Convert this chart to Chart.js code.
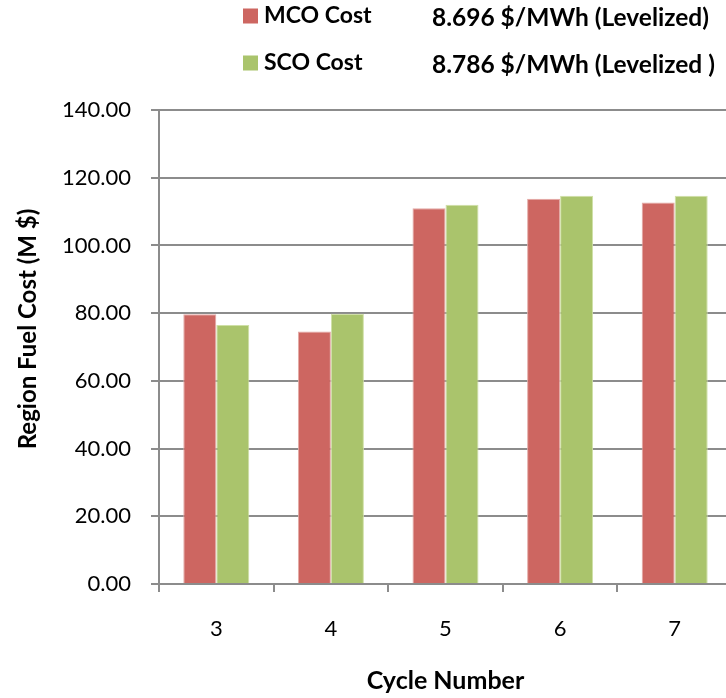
<!DOCTYPE html>
<html>
<head>
<meta charset="utf-8">
<script src="https://cdn.jsdelivr.net/npm/chart.js@4/dist/chart.umd.min.js"></script>
<style>
  html, body { margin: 0; padding: 0; background: #fff; overflow: hidden; }
  #wrap { width: 740px; height: 698px; }
</style>
</head>
<body>
<div id="wrap"><canvas id="c" width="740" height="698"></canvas></div>
<script>
// Cycle-by-cycle region fuel cost, two loading strategies
const cycles = ['3', '4', '5', '6', '7'];
const mcoCost = [79.7, 74.6, 111.0, 113.8, 112.7];
const scoCost = [76.5, 79.8, 112.0, 114.7, 114.7];
const seriesNames = ['MCO Cost', 'SCO Cost'];
const levelizedNotes = ['8.696 $/MWh (Levelized)', '8.786 $/MWh (Levelized )'];
const yTitle = 'Region Fuel Cost (M $)';
const xTitle = 'Cycle Number';

const FONT = 'Lato, "Open Sans", sans-serif';
const GRID = '#8c8c8c';

// Legend block with levelized cost notes, and the rotated y-axis title
const extras = {
  id: 'extras',
  afterDraw(chart) {
    const ctx = chart.ctx;
    ctx.save();
    const rows = [16, 63];
    chart.data.datasets.forEach((ds, i) => {
      const y = rows[i];
      ctx.fillStyle = ds.backgroundColor;
      ctx.fillRect(243, y - 7.5, 15, 15);
      ctx.fillStyle = '#000';
      ctx.textBaseline = 'middle';
      ctx.textAlign = 'left';
      ctx.font = 'bold 23px ' + FONT;
      ctx.fillText(ds.label, 264, y);
      ctx.font = 'bold 24.5px ' + FONT;
      ctx.fillText(levelizedNotes[i], 432, y + 2);
    });
    ctx.translate(28, 329);
    ctx.rotate(-Math.PI / 2);
    ctx.textAlign = 'center';
    ctx.textBaseline = 'middle';
    ctx.font = 'bold 24px ' + FONT;
    ctx.fillText(yTitle, 0, 0);
    ctx.restore();
  }
};

new Chart(document.getElementById('c'), {
  type: 'bar',
  data: {
    labels: cycles,
    datasets: [
      { label: seriesNames[0], data: mcoCost, backgroundColor: '#cd6661', borderColor: '#e3a9a5', borderWidth: 1 },
      { label: seriesNames[1], data: scoCost, backgroundColor: '#aac46c', borderColor: '#cfe0a6', borderWidth: 1 }
    ]
  },
  options: {
    responsive: false,
    animation: false,
    layout: { padding: { left: 0, right: 8, top: 110, bottom: 2 } },
    datasets: { bar: { categoryPercentage: 0.576, barPercentage: 1.0 } },
    plugins: { legend: { display: false }, tooltip: { enabled: false } },
    scales: {
      x: {
        offset: true,
        grid: { display: true, drawOnChartArea: false, color: GRID, lineWidth: 2, tickLength: 8 },
        border: { color: GRID, width: 2 },
        ticks: { color: '#000', font: { family: FONT, size: 22 }, padding: 24 },
        title: { display: true, text: xTitle, color: '#000', font: { family: FONT, size: 25, weight: 'bold' }, padding: { top: 18, bottom: 0 } },
        afterFit(scale) { scale.height = 112; }
      },
      y: {
        min: 0,
        max: 140,
        ticks: { stepSize: 20, color: '#000', font: { family: FONT, size: 22 }, padding: 20,
                 callback: v => v.toFixed(2) },
        grid: { color: GRID, lineWidth: 2, tickLength: 8 },
        border: { color: GRID, width: 2 },
        afterFit(scale) { scale.width = 159; }
      }
    }
  },
  plugins: [extras]
});
</script>
</body>
</html>
